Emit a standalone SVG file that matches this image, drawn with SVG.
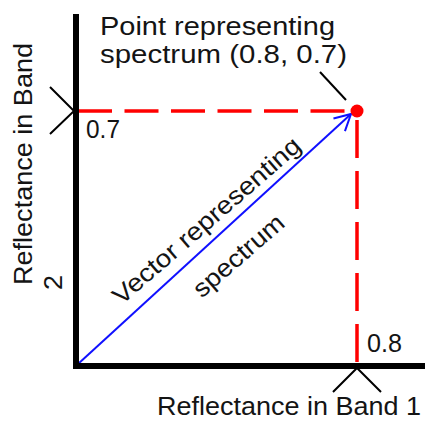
<svg xmlns="http://www.w3.org/2000/svg" width="425" height="421" viewBox="0 0 425 421">
<defs>
<style>
.t{font-family:"Liberation Sans",Arial,sans-serif;font-size:25px;fill:#141414}
.axis{stroke:#000;stroke-width:6;fill:none}
.tick{stroke:#000;stroke-width:2;fill:none}
.guide{stroke:#f00;stroke-width:3.5;fill:none}
</style>
<marker id="arr" markerUnits="userSpaceOnUse" markerWidth="30" markerHeight="30" refX="20" refY="10" orient="auto" viewBox="0 0 30 20">
<path d="M4,1.5 L20,10 L4,18.5" fill="none" stroke="#1010ff" stroke-width="2"/>
</marker>
</defs>
<rect width="425" height="421" fill="#fff"/>
<g id="connectors">
<line class="guide" x1="78" y1="111" x2="350" y2="111" stroke-dasharray="34 12.5"/>
<line class="guide" x1="357" y1="120" x2="357" y2="367" stroke-dasharray="38 13"/>
<line x1="78" y1="364" x2="351" y2="114" stroke="#1010ff" stroke-width="2" marker-end="url(#arr)"/>
<line x1="320" y1="72" x2="346" y2="100" stroke="#000" stroke-width="2"/>
</g>
<g id="axes">
<polyline class="axis" points="76,14 76,366 425,366"/>
<polyline class="tick" points="50,87 74,111 50,134"/>
<polyline class="tick" points="333,392 357,368 381,392"/>
</g>
<g id="point">
<circle cx="357" cy="111" r="6.5" fill="#f00"/>
<text class="t" x="100" y="35" textLength="235" lengthAdjust="spacingAndGlyphs">Point representing</text>
<text class="t" x="100" y="63" textLength="247" lengthAdjust="spacingAndGlyphs">spectrum (0.8, 0.7)</text>
</g>
<g id="vector-label">
<text class="t" transform="translate(212,227) rotate(-41)" text-anchor="middle" textLength="240" lengthAdjust="spacingAndGlyphs">Vector representing</text>
<text class="t" transform="translate(244,262) rotate(-41)" text-anchor="middle" textLength="112" lengthAdjust="spacingAndGlyphs">spectrum</text>
</g>
<g id="tick-labels">
<text class="t" x="86" y="138" textLength="34" lengthAdjust="spacingAndGlyphs">0.7</text>
<text class="t" x="367" y="352" textLength="35" lengthAdjust="spacingAndGlyphs">0.8</text>
</g>
<g id="axis-labels">
<text class="t" x="157" y="415" textLength="264" lengthAdjust="spacingAndGlyphs">Reflectance in Band 1</text>
<text class="t" transform="translate(32,285) rotate(-90)" textLength="242" lengthAdjust="spacingAndGlyphs">Reflectance in Band</text>
<text class="t" transform="translate(62,290) rotate(-90)" textLength="15" lengthAdjust="spacingAndGlyphs">2</text>
</g>
</svg>
